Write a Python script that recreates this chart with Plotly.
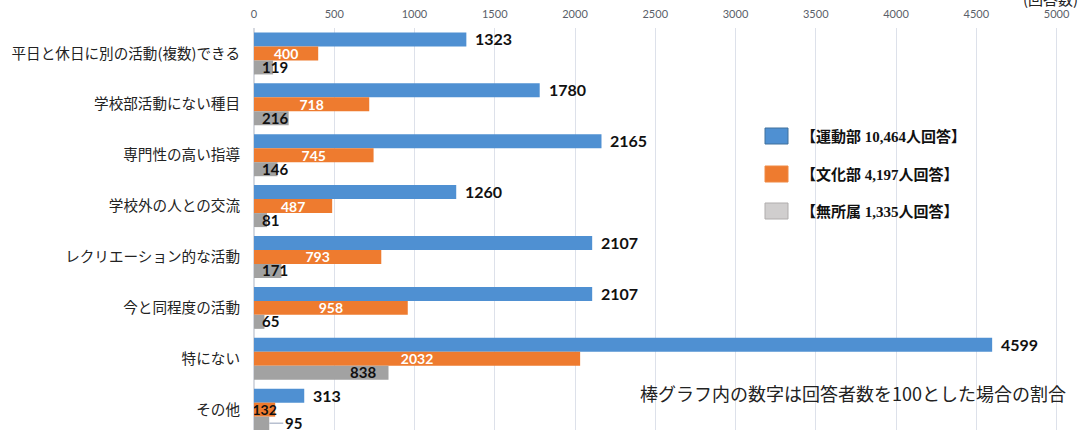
import plotly.graph_objects as go

categories = [
    "平日と休日に別の活動(複数)できる",
    "学校部活動にない種目",
    "専門性の高い指導",
    "学校外の人との交流",
    "レクリエーション的な活動",
    "今と同程度の活動",
    "特にない",
    "その他",
]
undo = [1323, 1780, 2165, 1260, 2107, 2107, 4599, 313]     # 運動部
bunka = [400, 718, 745, 487, 793, 958, 2032, 132]           # 文化部
mushozoku = [119, 216, 146, 81, 171, 65, 838, 95]           # 無所属
series_names = ["【運動部 10,464人回答】", "【文化部 4,197人回答】", "【無所属 1,335人回答】"]
x_ticks = list(range(0, 5001, 500))

BLUE = "#4f90d2"
ORANGE = "#ee7b2f"
GRAY = "#a2a2a2"
NUMFONT = "Lato, 'Noto Sans', sans-serif"

fig = go.Figure()

fig.add_trace(go.Bar(
    y=categories, x=undo, orientation="h", name=series_names[0],
    marker=dict(color=BLUE, line=dict(width=0)), showlegend=False,
))
fig.add_trace(go.Bar(
    y=categories, x=bunka, orientation="h", name=series_names[1],
    marker=dict(color=ORANGE, line=dict(width=0)), showlegend=False,
    text=[str(v) for v in bunka], textposition="inside", insidetextanchor="middle",
    constraintext="none",
    insidetextfont=dict(family=NUMFONT, size=14, weight="bold",
                        color=["#ffffff" if v >= 200 else "#111111" for v in bunka]),
))
fig.add_trace(go.Bar(
    y=categories, x=mushozoku, orientation="h", name=series_names[2],
    marker=dict(color=GRAY, line=dict(width=0)), showlegend=False,
))

annotations = []
# blue labels: outside end
for c, v in zip(categories, undo):
    annotations.append(dict(
        x=v, y=c, xref="x", yref="y", text=str(v), showarrow=False,
        xanchor="left", yshift=14.5, xshift=7,
        font=dict(family=NUMFONT, size=16, weight="bold", color="#111111"),
    ))
# gray labels
for c, v in zip(categories, mushozoku):
    if c == "その他":
        annotations.append(dict(
            x=v, y=c, xref="x", yref="y", text=str(v), showarrow=True,
            arrowhead=0, arrowwidth=1.5, arrowcolor="#b8c0d0", ax=14, ay=0,
            xanchor="left", yshift=-13.5, standoff=0,
            font=dict(family=NUMFONT, size=15, weight="bold", color="#111111"),
        ))
    elif v > 400:
        annotations.append(dict(
            x=v, y=c, xref="x", yref="y", text=str(v), showarrow=False,
            xanchor="right", yshift=-13.5, xshift=-11,
            font=dict(family=NUMFONT, size=15, weight="bold", color="#111111"),
        ))
    else:
        annotations.append(dict(
            x=0, y=c, xref="x", yref="y", text=str(v), showarrow=False,
            xanchor="left", yshift=-13.5, xshift=6,
            font=dict(family=NUMFONT, size=15, weight="bold", color="#111111"),
        ))

# unit label (cut off at top)
annotations.append(dict(
    x=1, y=1, xref="paper", yref="paper", text="(回答数)", showarrow=False,
    xanchor="right", yanchor="middle", yshift=30, xshift=-3,
    font=dict(family="'Noto Sans CJK JP', sans-serif", size=15, color="#222222"),
))
# note
annotations.append(dict(
    x=1, y=0, xref="paper", yref="paper",
    text="棒グラフ内の数字は回答者数を100とした場合の割合", showarrow=False,
    xanchor="right", yanchor="middle", yshift=37, xshift=-15,
    font=dict(family="'Noto Sans CJK JP', sans-serif", size=18, color="#222222"),
))

# custom legend
shapes = []
leg_colors = [(BLUE, "#41719c"), (ORANGE, "#f08a45"), ("#d0cece", "#b0adad")]
leg_top = [128, 166, 203]
for (fc, lc), top, name in zip(leg_colors, leg_top, series_names):
    shapes.append(dict(
        type="rect", xref="paper", yref="paper",
        x0=(765 - 254) / (1083 - 254), x1=(788 - 254) / (1083 - 254),
        y0=1 - (top + 16 - 28) / 402, y1=1 - (top - 28) / 402,
        fillcolor=fc, line=dict(color=lc, width=1),
    ))
    annotations.append(dict(
        x=(799 - 254) / (1083 - 254), y=1 - (top + 8 - 28) / 402,
        xref="paper", yref="paper", text=name, showarrow=False,
        xanchor="left", yanchor="middle",
        font=dict(family="'Liberation Serif', 'Noto Sans CJK JP', serif", size=15,
                  weight="bold", color="#111111"),
    ))

fig.update_layout(
    width=1083, height=430,
    margin=dict(l=254, r=0, t=28, b=0),
    paper_bgcolor="white", plot_bgcolor="white",
    barmode="group", bargap=0.175, bargroupgap=0,
    annotations=annotations, shapes=shapes,
    xaxis=dict(
        side="top", range=[0, 5165], tickvals=x_ticks,
        showgrid=True, gridcolor="#dde1ea", gridwidth=1,
        zeroline=True, zerolinecolor="#d6d9e0", zerolinewidth=2,
        showline=False, ticks="", ticklabelstandoff=7,
        tickfont=dict(family=NUMFONT, size=11, color="#5a5f6a"),
    ),
    yaxis=dict(
        type="category", range=[7.4, -0.5],
        showgrid=False, zeroline=False, showline=False, ticks="",
        ticklabelstandoff=13,
        tickfont=dict(family="'Noto Sans CJK JP', sans-serif", size=14.6, color="#222222"),
    ),
)

fig.write_html(
    "out.html",
    config={"displayModeBar": False},
    post_script="document.body.style.margin='0';document.body.style.overflow='hidden';",
)
